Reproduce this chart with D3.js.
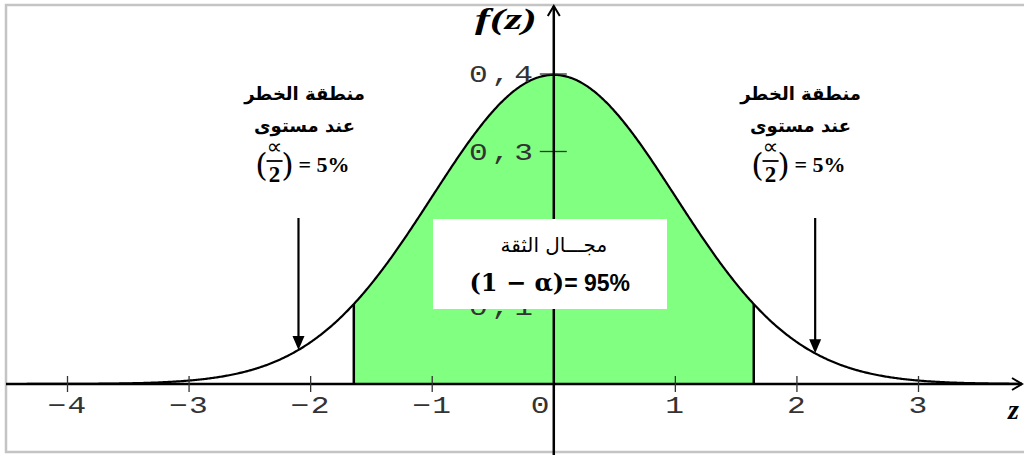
<!DOCTYPE html>
<html>
<head>
<meta charset="utf-8">
<script src="https://cdn.jsdelivr.net/npm/d3@7"></script>
<style>
  html, body { margin: 0; padding: 0; background: #fff; }
  svg { display: block; }
</style>
</head>
<body>
<svg id="chart" width="1024" height="455"></svg>
<script>
// Standard normal density with a two-sided 95% confidence interval.
const xTicks = [-4, -3, -2, -1, 0, 1, 2, 3];
const xTickLabels = ["\u22124", "\u22123", "\u22122", "\u22121", "0", "1", "2", "3"];
const yTicks = [0.1, 0.2, 0.3, 0.4];
const yTickLabels = ["0,1", "0,2", "0,3", "0,4"];
const zDomain = [-4.6, 3.9];
const criticalZ = [-1.645, 1.645];
const arrowZ = [-2.1, 2.15];
const riskLines = ["منطقة الخطر", "عند مستوى"];
const riskValue = "= 5%";
const intervalTitle = "مجـــال الثقة";
const intervalValue = "= 95%";

const pdf = z => Math.exp(-z * z / 2) / Math.sqrt(2 * Math.PI);

const svg = d3.select("#chart");
const x = d3.scaleLinear().domain([-4, 3]).range([67.5, 918.5]);
const y = d3.scaleLinear().domain([0, 0.4]).range([384, 74]);

// white label box in the middle of the interval
const box = { x: 433, y: 219, w: 234, h: 90 };

// frame
svg.append("path")
  .attr("d", "M1024,5 H6 V452 H1024")
  .attr("fill", "none").attr("stroke", "#c4c4c4").attr("stroke-width", 2.5);

// sampled curve
const step = 0.01;
const curvePts = d3.range(zDomain[0], zDomain[1] + step / 2, step).map(z => ({ z, d: pdf(z) }));
const shadePts = d3.range(criticalZ[0], criticalZ[1] + step / 2, step).map(z => ({ z, d: pdf(z) }));
shadePts.push({ z: criticalZ[1], d: pdf(criticalZ[1]) });

svg.append("path")
  .datum(shadePts)
  .attr("fill", "#80ff80")
  .attr("d", d3.area().x(p => x(p.z)).y0(y(0)).y1(p => y(p.d)));

// interval boundaries
svg.selectAll("line.crit").data(criticalZ).join("line")
  .attr("class", "crit")
  .attr("x1", d => x(d)).attr("x2", d => x(d))
  .attr("y1", y(0)).attr("y2", d => y(pdf(d)))
  .attr("stroke", "#000").attr("stroke-width", 2.5);

svg.append("defs").append("clipPath").attr("id", "clip")
  .append("rect").attr("x", 6).attr("y", 0).attr("width", 1016).attr("height", 455);

svg.append("path")
  .datum(curvePts)
  .attr("clip-path", "url(#clip)")
  .attr("fill", "none").attr("stroke", "#000").attr("stroke-width", 2.2)
  .attr("d", d3.line().x(p => x(p.z)).y(p => y(p.d)));

// x axis
const xAxisG = svg.append("g");
xAxisG.append("line")
  .attr("x1", 6).attr("x2", 1022).attr("y1", y(0)).attr("y2", y(0))
  .attr("stroke", "#000").attr("stroke-width", 2.5);
xAxisG.append("path")
  .attr("d", `M1012,${y(0) - 6} L1022,${y(0)} L1012,${y(0) + 6}`)
  .attr("fill", "none").attr("stroke", "#000").attr("stroke-width", 2);
xAxisG.selectAll("line.xt").data(xTicks.filter(t => t !== 0)).join("line")
  .attr("class", "xt")
  .attr("x1", d => x(d)).attr("x2", d => x(d))
  .attr("y1", y(0) - 8).attr("y2", y(0) + 8)
  .attr("stroke", "#333").attr("stroke-width", 1.3);
xAxisG.selectAll("text.xl").data(xTicks).join("text")
  .attr("class", "xl")
  .attr("transform", d => `translate(${d === 0 ? x(d) - 13 : x(d)},${y(0) + 29}) scale(1.3,1)`)
  .attr("text-anchor", "middle")
  .attr("font-family", "Liberation Mono").attr("font-size", 24).attr("fill", "#333")
  .attr("letter-spacing", 1)
  .text((d, i) => xTickLabels[i]);
svg.append("text")
  .attr("x", 1008).attr("y", 419)
  .attr("font-family", "Liberation Serif").attr("font-style", "italic").attr("font-weight", "bold")
  .attr("font-size", 28).text("z");

// y axis (labels fully covered by the label box are left out)
const yAxisG = svg.append("g");
yAxisG.selectAll("line.yt").data(yTicks).join("line")
  .attr("class", "yt")
  .attr("x1", x(0) - 14).attr("x2", x(0) + 13)
  .attr("y1", d => y(d)).attr("y2", d => y(d))
  .attr("stroke", "#333").attr("stroke-width", 1.3);
const yLabelData = yTicks.map((d, i) => ({ d, t: yTickLabels[i] }))
  .filter(o => !(y(o.d) - 10 >= box.y && y(o.d) + 10 <= box.y + box.h));
yAxisG.selectAll("text.yl").data(yLabelData).join("text")
  .attr("class", "yl")
  .attr("transform", o => `translate(${x(0) - 17},${y(o.d) + 8}) scale(1.3,1)`)
  .attr("text-anchor", "end")
  .attr("font-family", "Liberation Mono").attr("font-size", 24).attr("fill", "#333")
  .attr("letter-spacing", 3)
  .text(o => o.t);
yAxisG.append("line")
  .attr("x1", x(0)).attr("x2", x(0)).attr("y1", 6).attr("y2", 455)
  .attr("stroke", "#000").attr("stroke-width", 2.5);
yAxisG.append("path")
  .attr("d", `M${x(0) - 6},16 L${x(0)},6 L${x(0) + 6},16`)
  .attr("fill", "none").attr("stroke", "#000").attr("stroke-width", 2);
svg.append("text")
  .attr("x", 475).attr("y", 29)
  .attr("font-family", "Liberation Serif").attr("font-style", "italic").attr("font-weight", "bold")
  .attr("font-size", 30).attr("textLength", 62).attr("lengthAdjust", "spacingAndGlyphs")
  .text("f(z)");

// arrows to the rejection regions
svg.selectAll("g.arrow").data(arrowZ).join("g")
  .attr("class", "arrow")
  .each(function (z) {
    const g = d3.select(this);
    const ax = x(z), tip = y(pdf(z));
    g.append("line").attr("x1", ax).attr("x2", ax).attr("y1", 218).attr("y2", tip - 10)
      .attr("stroke", "#000").attr("stroke-width", 2.2);
    g.append("path").attr("d", `M${ax - 6},${tip - 14} L${ax + 6},${tip - 14} L${ax},${tip} Z`)
      .attr("fill", "#000");
  });

// rejection-region labels
[x(-2.05), x(2.03)].forEach(cx => {
  const g = svg.append("g");
  riskLines.forEach((t, i) => {
    g.append("text")
      .attr("x", cx).attr("y", 100 + i * 32)
      .attr("text-anchor", "middle").attr("direction", "rtl")
      .attr("font-family", "DejaVu Sans").attr("font-weight", "bold").attr("font-size", 18)
      .text(t);
  });
  const fx = cx - 30;
  g.append("text").attr("x", fx - 13).attr("y", 176)
    .attr("text-anchor", "middle")
    .attr("font-family", "DejaVu Serif").attr("font-size", 32)
    .text("(");
  g.append("text").attr("x", fx + 13).attr("y", 176)
    .attr("text-anchor", "middle")
    .attr("font-family", "DejaVu Serif").attr("font-size", 32)
    .text(")");
  g.append("text").attr("x", fx).attr("y", 154)
    .attr("text-anchor", "middle")
    .attr("font-family", "DejaVu Sans").attr("font-size", 22)
    .text("\u221D");
  g.append("line").attr("x1", fx - 8).attr("x2", fx + 8).attr("y1", 161).attr("y2", 161)
    .attr("stroke", "#000").attr("stroke-width", 1.8);
  g.append("text").attr("x", fx).attr("y", 182)
    .attr("text-anchor", "middle")
    .attr("font-family", "Liberation Serif").attr("font-weight", "bold").attr("font-size", 23)
    .text("2");
  g.append("text").attr("x", fx + 24).attr("y", 172)
    .attr("font-family", "Liberation Serif").attr("font-weight", "bold").attr("font-size", 22)
    .text(riskValue);
});

// confidence interval label
const cx0 = x(0);
svg.append("rect")
  .attr("x", box.x).attr("y", box.y).attr("width", box.w).attr("height", box.h)
  .attr("fill", "#fff");
svg.append("text")
  .attr("x", cx0).attr("y", 252)
  .attr("text-anchor", "middle").attr("direction", "rtl")
  .attr("font-family", "DejaVu Sans").attr("font-size", 20)
  .text(intervalTitle);
const t2 = svg.append("text")
  .attr("x", cx0 - 4).attr("y", 291)
  .attr("text-anchor", "middle")
  .attr("font-weight", "bold");
t2.append("tspan").attr("font-family", "DejaVu Serif").attr("font-size", 24).text("(1 \u2212 \u03B1)");
t2.append("tspan").attr("font-family", "Liberation Sans").attr("font-size", 23).text(intervalValue);
</script>
</body>
</html>
